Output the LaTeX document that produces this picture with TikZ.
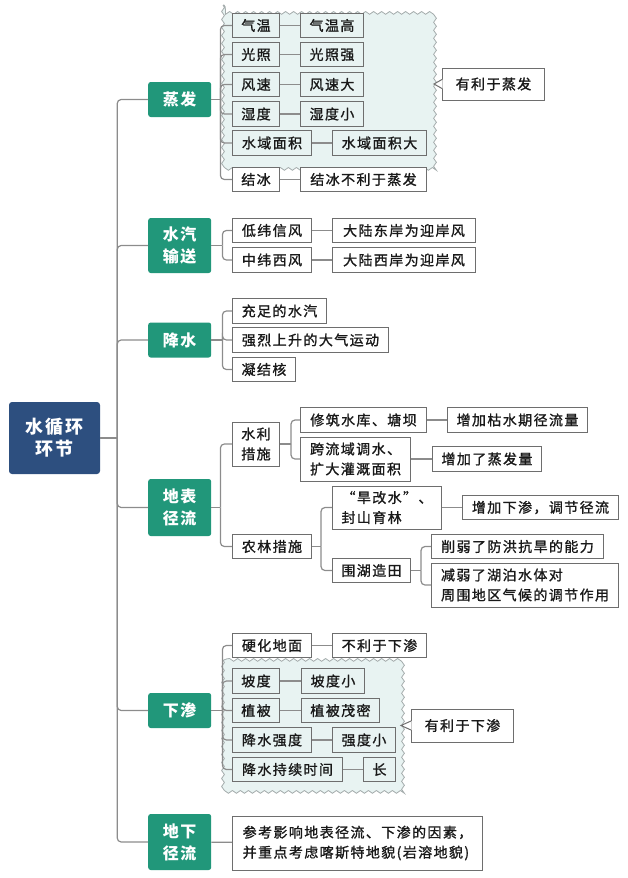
\documentclass[tikz,border=0pt]{standalone}
\usepackage{fontspec}
\newfontfamily\cjk{Noto Sans CJK SC}[LetterSpace=10]
\newfontfamily\cjkbody{Noto Sans CJK SC}[LetterSpace=10, AutoFakeBold=1.2]
\usetikzlibrary{decorations.pathmorphing}
\definecolor{rootblue}{HTML}{2D4F7F}
\definecolor{partgreen}{HTML}{21977A}
\definecolor{cloudfill}{HTML}{E8F3F2}
\definecolor{cloudedge}{HTML}{A4ACAC}
\definecolor{boxedge}{HTML}{6E6E6E}
\definecolor{linegray}{HTML}{8C8C8C}
\tikzstyle{topic} = [rectangle, rounded corners=3pt, fill=rootblue, text=white, align=center, inner sep=0pt, font=\cjk\bfseries\fontsize{18}{22}\selectfont]
\tikzstyle{part} = [rectangle, rounded corners=2.5pt, fill=partgreen, text=white, align=center, inner sep=0pt, minimum width=63pt, anchor=west, font=\cjk\bfseries\fontsize{16}{22}\selectfont]
\tikzstyle{basic} = [rectangle, draw=boxedge, line width=1pt, fill=white, align=left, inner sep=0pt, minimum height=24.5pt, anchor=west, text=black!90, font=\cjkbody\bfseries\fontsize{14}{20}\selectfont]
\tikzstyle{shaded} = [basic, fill=cloudfill]
\tikzstyle{cloud} = [draw=cloudedge, fill=cloudfill, line width=0.8pt, decorate, decoration={snake, amplitude=1.4pt, segment length=8pt}]

\begin{document}
\begin{tikzpicture}[x=1pt, y=-1pt]
        \tikzset{link/.style={draw=linegray, line width=1.2pt, rounded corners=4pt}}
        \useasboundingbox (0,0) rectangle (627,878);
        % shaded groups
        \draw [cloud] (223,5) rectangle (435,164);
        \draw [cloud] (223,660) rectangle (402,790);

        \node (root) [topic, minimum width=91pt, minimum height=72pt] at (54.5,438) {水循环\\环节};

        % evaporation
        \node (evap) [part, minimum height=35pt] at (148,99.5) {蒸发};
        \node (temp) [shaded, minimum width=47pt] at (232,25.5) {气温};
        \node (tempHigh) [shaded, minimum width=63pt] at (300,25.5) {气温高};
        \node (light) [shaded, minimum width=47pt] at (232,54.5) {光照};
        \node (lightStrong) [shaded, minimum width=63pt] at (300,54.5) {光照强};
        \node (wind) [shaded, minimum width=47pt] at (232,84.5) {风速};
        \node (windBig) [shaded, minimum width=63pt] at (300,84.5) {风速大};
        \node (humid) [shaded, minimum width=47pt] at (232,114) {湿度};
        \node (humidLow) [shaded, minimum width=63pt] at (300,114) {湿度小};
        \node (water) [shaded, minimum width=79pt] at (232,143) {水域面积};
        \node (waterBig) [shaded, minimum width=94pt] at (332,143) {水域面积大};
        \node (ice) [basic, minimum width=47pt] at (232,179.5) {结冰};
        \node (iceBad) [basic, minimum width=126pt] at (300,179.5) {结冰不利于蒸发};
        \node (favorEvap) [basic, minimum width=102pt, minimum height=32pt] at (442,84) {有利于蒸发};
        \coordinate (evapTip) at (434,84);

        % vapour transport
        \node (vapor) [part, minimum height=55pt] at (148,245.5) {水汽\\输送};
        \node (trade) [basic, minimum width=79pt] at (232,230.5) {低纬信风};
        \node (eastCoast) [basic, minimum width=143pt] at (332,230.5) {大陆东岸为迎岸风};
        \node (westerly) [basic, minimum width=79pt] at (232,260) {中纬西风};
        \node (westCoast) [basic, minimum width=143pt] at (332,260) {大陆西岸为迎岸风};

        % precipitation
        \node (precip) [part, minimum height=35pt] at (148,340) {降水};
        \node (moist) [basic, minimum width=94pt] at (232,311) {充足的水汽};
        \node (uplift) [basic, minimum width=156pt] at (232,340) {强烈上升的大气运动};
        \node (nuclei) [basic, minimum width=63pt] at (232,369.5) {凝结核};

        % surface runoff
        \node (runoff) [part, minimum height=57pt] at (148,507.5) {地表\\径流};
        \node (hydro) [basic, minimum width=47pt, minimum height=44pt] at (232,444) {水利\\措施};
        \node (agro) [basic, minimum width=79pt] at (232,546.5) {农林措施};
        \node (reservoir) [basic, minimum width=126pt] at (300,420) {修筑水库、塘坝};
        \node (dryFlow) [basic, minimum width=140pt] at (447,420) {增加枯水期径流量};
        \node (transfer) [basic, minimum width=110pt, minimum height=44pt] at (300,459) {跨流域调水、\\扩大灌溉面积};
        \node (moreEvap) [basic, minimum width=109pt] at (432,459) {增加了蒸发量};
        \node (paddy) [basic, minimum width=109pt, minimum height=43pt] at (332,507.5) {“旱改水”、\\封山育林};
        \node (moreInfil) [basic, minimum width=156pt] at (462,507.5) {增加下渗，调节径流};
        \node (reclaim) [basic, minimum width=78pt] at (332,570.5) {围湖造田};
        \node (flood) [basic, minimum width=172pt] at (431,546.5) {削弱了防洪抗旱的能力};
        \node (climate) [basic, minimum width=187pt, minimum height=44pt] at (431,585) {减弱了湖泊水体对\\周围地区气候的调节作用};

        % infiltration
        \node (infil) [part, minimum height=35pt] at (148,710.5) {下渗};
        \node (paved) [basic, minimum width=79pt] at (232,645.5) {硬化地面};
        \node (pavedBad) [basic, minimum width=94pt] at (332,645.5) {不利于下渗};
        \node (slope) [shaded, minimum width=47pt] at (232,681) {坡度};
        \node (slopeLow) [shaded, minimum width=63pt] at (301,681) {坡度小};
        \node (veg) [shaded, minimum width=47pt] at (232,710.5) {植被};
        \node (vegDense) [shaded, minimum width=78pt] at (301,710.5) {植被茂密};
        \node (rain) [shaded, minimum width=79pt] at (232,740) {降水强度};
        \node (rainLow) [shaded, minimum width=63pt] at (332,740) {强度小};
        \node (dur) [shaded, minimum width=110pt] at (232,769.5) {降水持续时间};
        \node (durLong) [shaded, minimum width=32pt] at (363,769.5) {长};
        \node (favorInfil) [basic, minimum width=102pt, minimum height=33pt] at (411,725.5) {有利于下渗};
        \coordinate (infilTip) at (401,725.5);

        % groundwater
        \node (ground) [part, minimum height=56pt] at (148,842) {地下\\径流};
        \node (karst) [basic, minimum width=250pt, minimum height=54pt] at (232,843) {参考影响地表径流、下渗的因素，\\并重点考虑喀斯特地貌(岩溶地貌)};

        % trunk
        \draw [link] (root.east) -- ++(17,0) coordinate (trunk);
        \draw [link] (trunk) |- (evap.west);
        \draw [link] (trunk) |- (vapor.west);
        \draw [link] (trunk) |- (precip.west);
        \draw [link] (trunk) |- (runoff.west);
        \draw [link] (trunk) |- (infil.west);
        \draw [link] (trunk) |- (ground.west);

        \draw [link] (evap.east) -- ++(9,0) coordinate (evapJ);
        \draw [link] (evapJ) |- (temp.west);
        \draw [link] (evapJ) |- (light.west);
        \draw [link] (evapJ) |- (wind.west);
        \draw [link] (evapJ) |- (humid.west);
        \draw [link] (evapJ) |- (water.west);
        \draw [link] (evapJ) |- (ice.west);
        \draw [link] (temp) -- (tempHigh);
        \draw [link] (light) -- (lightStrong);
        \draw [link] (wind) -- (windBig);
        \draw [link] (humid) -- (humidLow);
        \draw [link] (water) -- (waterBig);
        \draw [link] (ice) -- (iceBad);
        \fill [white] ([xshift=0.6pt,yshift=4.5pt]favorEvap.west) -- (evapTip) -- ([xshift=0.6pt,yshift=-4.5pt]favorEvap.west) -- cycle;
        \draw [boxedge, line width=1pt] ([yshift=4.5pt]favorEvap.west) -- (evapTip) -- ([yshift=-4.5pt]favorEvap.west);

        \draw [link] (vapor.east) -- ++(11,0) coordinate (vaporJ);
        \draw [link] (vaporJ) |- (trade.west);
        \draw [link] (vaporJ) |- (westerly.west);
        \draw [link] (trade) -- (eastCoast);
        \draw [link] (westerly) -- (westCoast);

        \draw [link] (precip.east) -- ++(11,0) coordinate (precipJ);
        \draw [link] (precipJ) |- (moist.west);
        \draw [link] (precipJ) |- (uplift.west);
        \draw [link] (precipJ) |- (nuclei.west);

        \draw [link] (runoff.east) -- ++(9,0) coordinate (runoffJ);
        \draw [link] (runoffJ) |- (hydro.west);
        \draw [link] (runoffJ) |- (agro.west);
        \draw [link] (hydro.east) -- ++(11,0) coordinate (hydroJ);
        \draw [link] (hydroJ) |- (reservoir.west);
        \draw [link] (hydroJ) |- (transfer.west);
        \draw [link] (reservoir) -- (dryFlow);
        \draw [link] (transfer) -- (moreEvap);
        \draw [link] (agro.east) -- ++(9,0) coordinate (agroJ);
        \draw [link] (agroJ) |- (paddy.west);
        \draw [link] (agroJ) |- (reclaim.west);
        \draw [link] (paddy) -- (moreInfil);
        \draw [link] (reclaim.east) -- ++(10,0) coordinate (reclaimJ);
        \draw [link] (reclaimJ) |- (flood.west);
        \draw [link] (reclaimJ) |- (climate.west);

        \draw [link] (infil.east) -- ++(11,0) coordinate (infilJ);
        \draw [link] (infilJ) |- (paved.west);
        \draw [link] (infilJ) |- (slope.west);
        \draw [link] (infilJ) |- (veg.west);
        \draw [link] (infilJ) |- (rain.west);
        \draw [link] (infilJ) |- (dur.west);
        \draw [link] (paved) -- (pavedBad);
        \draw [link] (slope) -- (slopeLow);
        \draw [link] (veg) -- (vegDense);
        \draw [link] (rain) -- (rainLow);
        \draw [link] (dur) -- (durLong);
        \fill [white] ([xshift=0.6pt,yshift=4.5pt]favorInfil.west) -- (infilTip) -- ([xshift=0.6pt,yshift=-4.5pt]favorInfil.west) -- cycle;
        \draw [boxedge, line width=1pt] ([yshift=4.5pt]favorInfil.west) -- (infilTip) -- ([yshift=-4.5pt]favorInfil.west);

        \draw [link] (ground) -- (karst);
    \end{tikzpicture}
\end{document}
